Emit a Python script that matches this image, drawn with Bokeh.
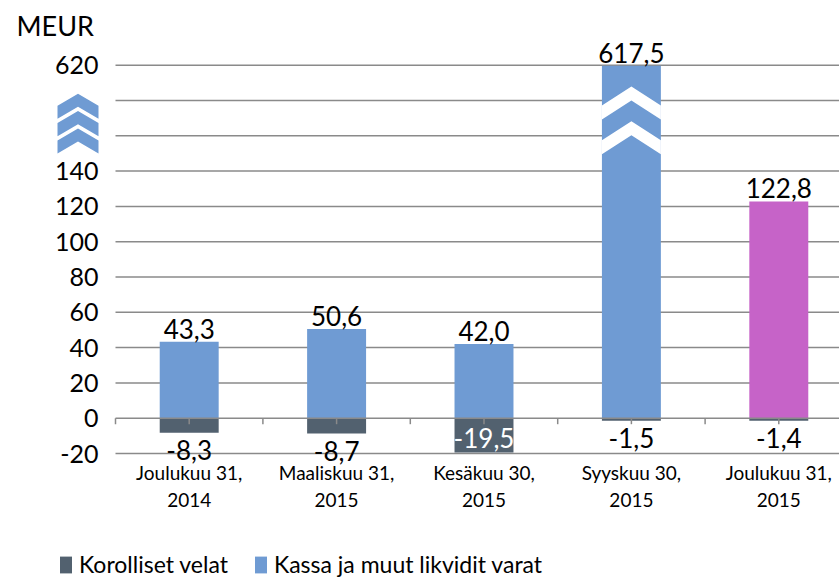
from bokeh.plotting import figure
from bokeh.models import FixedTicker, Legend, LegendItem
from bokeh.embed import file_html
from bokeh.resources import INLINE
from bokeh.core.properties import value

# ---------------- data ----------------
categories = ["Joulukuu 31,\n2014", "Maaliskuu 31,\n2015", "Kesäkuu 30,\n2015",
              "Syyskuu 30,\n2015", "Joulukuu 31,\n2015"]
cash = [43.3, 50.6, 42.0, 617.5, 122.8]            # Kassa ja muut likvidit varat
debt = [-8.3, -8.7, -19.5, -1.5, -1.4]             # Korolliset velat
cash_labels = ["43,3", "50,6", "42,0", "617,5", "122,8"]
debt_labels = ["-8,3", "-8,7", "-19,5", "-1,5", "-1,4"]
cash_colors = ["#6F9BD3", "#6F9BD3", "#6F9BD3", "#6F9BD3", "#C663C8"]
y_ticks = [-20, 0, 20, 40, 60, 80, 100, 120, 140, 200]
grid_ticks = [-20, 20, 40, 60, 80, 100, 120, 140, 160, 180, 200]
y_tick_overrides = {-20: "-20", 200: "620"}
series_names = ["Korolliset velat", "Kassa ja muut likvidit varat"]
unit_label = "MEUR"

# axis break: values between BREAK_LOW and BREAK_VALUE are squeezed into [BREAK_LOW, BREAK_DISPLAY]
BREAK_LOW, BREAK_VALUE, BREAK_DISPLAY = 140, 620, 200

BLUE = "#6F9BD3"
DARK = "#52616F"
GRID = "#8A8A8A"
FONT = "Lato"


def disp(v):
    if v <= BREAK_LOW:
        return v
    return BREAK_LOW + (v - BREAK_LOW) * (BREAK_DISPLAY - BREAK_LOW) / (BREAK_VALUE - BREAK_LOW)


n = len(categories)
centers = [i + 0.5 for i in range(n)]
half_ticks = [i / 2 for i in range(2 * n + 1)]
cash_disp = [disp(v) for v in cash]

# ---------------- layout (pixels) ----------------
W, H = 839, 584
FRAME_LEFT = 10
BOTTOM_BORDER = 4
FRAME_H = H - BOTTOM_BORDER
PLOT_LEFT, PLOT_RIGHT = 115, 852   # category area (runs past the right edge of the page)
ZERO_PX = 417.7                    # pixel row of value 0
PX_Y = 1.765                       # pixels per display unit
PX_X = (PLOT_RIGHT - PLOT_LEFT) / n


def xpx(px):  # pixel column -> data x
    return (px - PLOT_LEFT) / PX_X


def dy(px):   # pixel distance -> display units
    return px / PX_Y


y_end = ZERO_PX / PX_Y
y_start = (ZERO_PX - FRAME_H) / PX_Y

p = figure(frame_width=W - FRAME_LEFT, frame_height=FRAME_H,
           x_range=(xpx(FRAME_LEFT), xpx(W)), y_range=(y_start, y_end),
           output_backend="svg", toolbar_location=None,
           min_border_left=FRAME_LEFT, min_border_right=0, min_border_top=0,
           min_border_bottom=BOTTOM_BORDER)
p.outline_line_color = None
p.xgrid.visible = False
p.ygrid.visible = False

# gridlines across the category area only (behind the bars)
p.segment(x0=[0] * len(grid_ticks), y0=grid_ticks, x1=[n] * len(grid_ticks), y1=grid_ticks,
          line_color=GRID, line_width=1.5)

# y axis (labels right-aligned at x = 98 px)
p.yaxis.ticker = FixedTicker(ticks=y_ticks)
p.yaxis.major_label_overrides = y_tick_overrides
p.yaxis.axis_line_color = None
p.yaxis.major_tick_line_color = None
p.yaxis.minor_tick_line_color = None
p.yaxis.major_tick_in = 0
p.yaxis.major_tick_out = 0
p.yaxis.major_label_standoff = -(98 - FRAME_LEFT)
p.yaxis.major_label_text_font = FONT
p.yaxis.major_label_text_font_size = "25px"
p.yaxis.major_label_text_color = "black"

# x axis (category labels start at y = 460 px)
p.xaxis.ticker = FixedTicker(ticks=centers)
p.xaxis.major_label_overrides = {c: lab for c, lab in zip(centers, categories)}
p.xaxis.axis_line_color = None
p.xaxis.major_tick_line_color = None
p.xaxis.minor_tick_line_color = None
p.xaxis.major_tick_in = 0
p.xaxis.major_tick_out = 0
p.xaxis.major_label_standoff = 460 - FRAME_H
p.xaxis.major_label_text_font = FONT
p.xaxis.major_label_text_font_size = "19px"
p.xaxis.major_label_text_color = "black"
p.xaxis.major_label_text_line_height = 1.2

# bars
BAR_W = 0.4
r_cash = p.vbar(x=centers, top=cash_disp, bottom=0, width=BAR_W,
                fill_color=cash_colors, line_color=None)
r_debt = p.vbar(x=centers, top=0, bottom=debt, width=BAR_W,
                fill_color=DARK, line_color=None)

# horizontal axis line at zero with tick marks (on top of the bars)
p.segment(x0=[0], y0=[0], x1=[n], y1=[0], line_color=GRID, line_width=1.5)
p.segment(x0=half_ticks, y0=[0] * len(half_ticks), x1=half_ticks, y1=[-3.4] * len(half_ticks),
          line_color=GRID, line_width=1.5)

# break chevrons inside broken bars (white)
CH_T, CH_D = 8.0, 10.8
for xc, v in zip(centers, cash):
    if v > BREAK_LOW:
        for apex in (188.0, 168.3):
            xs = [xc - BAR_W / 2, xc, xc + BAR_W / 2, xc + BAR_W / 2, xc, xc - BAR_W / 2]
            ys = [apex - CH_D, apex, apex - CH_D, apex - CH_D - CH_T, apex - CH_T, apex - CH_D - CH_T]
            p.patch(xs, ys, fill_color="white", line_color=None)

# break chevrons on the axis (blue)
ax_left, ax_right = xpx(57), xpx(98)
ax_c = (ax_left + ax_right) / 2
A_T, A_D = 7.4, 6.8
for apex in (183.8, 174.0, 164.2):
    p.patch([ax_left, ax_c, ax_right, ax_right, ax_c, ax_left],
            [apex - A_D, apex, apex - A_D, apex - A_D - A_T, apex - A_T, apex - A_D - A_T],
            fill_color=BLUE, line_color=None)

# data labels (vertically centred, offsets in pixels converted to display units)
LBL = dict(text_align="center", text_baseline="middle", text_font=value(FONT), text_font_size="26px")
p.text(x=centers, y=[t + dy(13) for t in cash_disp], text=cash_labels, text_color="black", **LBL)

out_x, out_y, out_t = [], [], []
in_x, in_y, in_t = [], [], []
for xc, v, t in zip(centers, debt, debt_labels):
    if v - 8 < -20:
        in_x.append(xc); in_y.append(v + dy(15)); in_t.append(t)
    else:
        out_x.append(xc); out_y.append(v - dy(17)); out_t.append(t)
p.text(x=out_x, y=out_y, text=out_t, text_color="black", **LBL)
p.text(x=in_x, y=in_y, text=in_t, text_color="white", **LBL)

# unit label
p.text(x=[xpx(16)], y=[(ZERO_PX - 25) / PX_Y], text=[unit_label], text_align="left",
       text_baseline="middle", text_font=value(FONT), text_font_size="27px", text_color="black")

# legend (inside the frame, bottom-left; bottom edge at y = 578 px)
legend = Legend(items=[LegendItem(label=series_names[0], renderers=[r_debt], index=0),
                       LegendItem(label=series_names[1], renderers=[r_cash], index=0)],
                location=(58 - FRAME_LEFT, FRAME_H - 578), orientation="horizontal",
                glyph_width=15, glyph_height=21, label_height=21,
                label_standoff=6, spacing=25, padding=0, margin=0,
                border_line_color=None, background_fill_alpha=0,
                label_text_font=FONT, label_text_font_size="23px", label_text_color="black")
p.add_layout(legend, "center")

open("out.html", "w").write(file_html(p, INLINE))
